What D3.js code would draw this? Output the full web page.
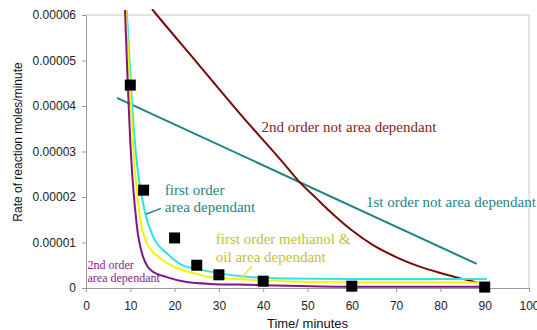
<!DOCTYPE html>
<html>
<head>
<meta charset="utf-8">
<script src="https://cdn.jsdelivr.net/npm/d3@7"></script>
<style>
  html, body { margin: 0; padding: 0; background: #fff; }
  svg { display: block; }
</style>
</head>
<body>
<svg id="chart" width="537" height="330"></svg>
<script>
// ---------- data ----------
const xTicks = [0, 10, 20, 30, 40, 50, 60, 70, 80, 90, 100];
const yTicks = [0, 0.00001, 0.00002, 0.00003, 0.00004, 0.00005, 0.00006];
const yTickLabels = ["0", "0.00001", "0.00002", "0.00003", "0.00004", "0.00005", "0.00006"];

// measured experimental points
const expTimes = [10, 13, 20, 25, 30, 40, 60, 90];
const expRates = [4.46e-5, 2.15e-5, 1.1e-5, 0.5e-5, 0.29e-5, 0.15e-5, 0.04e-5, 0.02e-5];

// model curves [time, rate]
const firstOrderArea = [[9.2, 6.11e-5], [10.3, 4.2e-5], [11.2, 3.03e-5], [13.3, 1.67e-5], [15.2, 1.12e-5], [18.2, 0.77e-5],
  [21.6, 0.51e-5], [25, 0.42e-5], [28, 0.36e-5], [37, 0.24e-5], [45, 0.21e-5], [60, 0.2e-5], [90.5, 0.2e-5]];
const firstOrderMethOil = [[9.0, 6.11e-5], [10.0, 4.3e-5], [10.7, 3.03e-5], [12.2, 1.56e-5], [13.7, 0.99e-5], [16.7, 0.66e-5],
  [20.5, 0.44e-5], [24.2, 0.33e-5], [28, 0.24e-5], [37, 0.18e-5], [60, 0.12e-5], [90.5, 0.12e-5]];
const secondOrderArea = [[8.8, 6.11e-5], [10.1, 3.03e-5], [11.4, 1.43e-5], [12.9, 0.68e-5], [15.2, 0.35e-5], [18.2, 0.24e-5],
  [22.7, 0.13e-5], [28, 0.09e-5], [37, 0.07e-5], [60, 0.03e-5], [90.5, 0.03e-5]];
const secondOrderNotArea = [[14.9, 6.13e-5], [16, 6.0e-5], [25, 4.96e-5], [36, 3.69e-5], [44, 2.81e-5], [48, 2.35e-5], [52, 1.97e-5],
  [56, 1.6e-5], [60, 1.27e-5], [65, 0.93e-5], [70, 0.68e-5], [75, 0.48e-5], [80, 0.33e-5], [85, 0.2e-5], [88.3, 0.12e-5]];
const firstOrderNotArea = [[7, 4.18e-5], [88.2, 0.53e-5]];

// annotation labels
const labels = [
  { lines: ["2nd order not area dependant"], t: 39.6, r: 3.435e-5, color: "#802626", size: 15, lh: 17 },
  { lines: ["1st order not area dependant"], t: 63.2, r: 1.78e-5, color: "#238585", size: 15, lh: 17 },
  { lines: ["first order", "area dependant"], t: 17.8, r: 2.044e-5, color: "#238585", size: 15, lh: 17 },
  { lines: ["first order methanol &", "oil area dependant"], t: 29.3, r: 0.967e-5, color: "#C2C232", size: 15, lh: 18 },
  { lines: ["2nd order", "area dependant"], t: 0.35, r: 0.418e-5, color: "#8A1A8A", size: 12, lh: 13 }
];
const leaders = [
  { from: [13.5, 1.62e-5], to: [16.9, 1.75e-5], color: "#238585" },
  { from: [37.4, 0.47e-5], to: [34.8, 0.18e-5], color: "#E6E632" }
];

// ---------- drawing ----------
const svg = d3.select("#chart");
const x = d3.scaleLinear().domain([0, 100]).range([86, 529]);
const y = d3.scaleLinear().domain([0, 0.00006]).range([288, 15]);

// plot border (top + right)
svg.append("path")
  .attr("d", `M${x(0)},${y(0.00006)}H${x(100)}V${y(0)}`)
  .attr("fill", "none").attr("stroke", "#c8c8c8").attr("stroke-width", 1);

// clip (curves slightly overshoot top, as in the original)
svg.append("clipPath").attr("id", "clip")
  .append("rect").attr("x", x(0)).attr("y", 9).attr("width", x(100) - x(0)).attr("height", y(0) - 9);

const line = d3.line().x(d => x(d[0])).y(d => y(d[1])).curve(d3.curveMonotoneX);
const g = svg.append("g").attr("clip-path", "url(#clip)");

const series = [
  { data: firstOrderNotArea, color: "#1C8282" },
  { data: secondOrderNotArea, color: "#7A0A0A" },
  { data: firstOrderArea, color: "#2EE3E3" },
  { data: firstOrderMethOil, color: "#F4F400" },
  { data: secondOrderArea, color: "#7E1686" }
];
series.forEach(s => {
  g.append("path").datum(s.data).attr("d", line)
    .attr("fill", "none").attr("stroke", s.color).attr("stroke-width", 2);
});

// axes
const xAxis = svg.append("g").attr("transform", `translate(0,${y(0)})`)
  .call(d3.axisBottom(x).tickValues(xTicks).tickSize(4).tickSizeOuter(0).tickFormat(d3.format("d")));
xAxis.selectAll("text").attr("y", 21.5).attr("dy", null)
  .attr("font-family", "Liberation Sans, Arial, sans-serif").attr("font-size", 12).attr("fill", "#222");

const yAxis = svg.append("g").attr("transform", `translate(${x(0)},0)`)
  .call(d3.axisLeft(y).tickValues(yTicks).tickSize(4).tickSizeOuter(0).tickPadding(6)
    .tickFormat((d, i) => yTickLabels[i]));
yAxis.selectAll("text")
  .attr("font-family", "Liberation Sans, Arial, sans-serif").attr("font-size", 12).attr("fill", "#222");
[xAxis, yAxis].forEach(a => {
  a.select(".domain").attr("stroke", "#9a9a9a");
  a.selectAll(".tick line").attr("stroke", "#9a9a9a");
});

// experimental squares
const sq = 11;
svg.append("g").selectAll("rect").data(expTimes).join("rect")
  .attr("x", (d) => x(d) - sq / 2)
  .attr("y", (d, i) => y(expRates[i]) - sq / 2)
  .attr("width", sq).attr("height", sq).attr("fill", "#000");

// leader lines
leaders.forEach(l => {
  svg.append("line")
    .attr("x1", x(l.from[0])).attr("y1", y(l.from[1]))
    .attr("x2", x(l.to[0])).attr("y2", y(l.to[1]))
    .attr("stroke", l.color).attr("stroke-width", 1.5);
});

// annotation text
labels.forEach(lb => {
  const t = svg.append("text")
    .attr("x", x(lb.t)).attr("y", y(lb.r))
    .attr("font-family", "Liberation Serif, Times New Roman, serif")
    .attr("font-size", lb.size).attr("fill", lb.color);
  lb.lines.forEach((s, i) => {
    t.append("tspan").attr("x", x(lb.t)).attr("dy", i === 0 ? 0 : lb.lh).text(s);
  });
});

// axis titles
svg.append("text")
  .attr("x", (x(0) + x(100)) / 2).attr("y", 327.5)
  .attr("text-anchor", "middle")
  .attr("font-family", "Liberation Sans, Arial, sans-serif").attr("font-size", 13).attr("fill", "#111")
  .text("Time/ minutes");
svg.append("text")
  .attr("transform", `translate(22,142) rotate(-90)`)
  .attr("text-anchor", "middle")
  .attr("font-family", "Liberation Sans, Arial, sans-serif").attr("font-size", 12).attr("fill", "#111")
  .text("Rate of reaction moles/minute");
</script>
</body>
</html>
